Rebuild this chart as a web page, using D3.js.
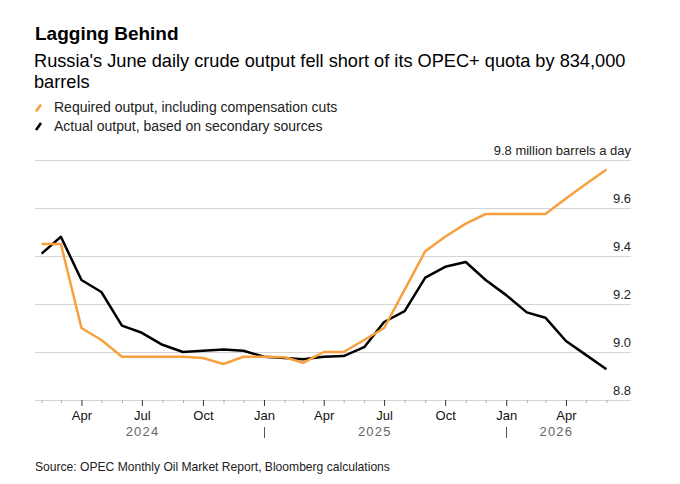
<!DOCTYPE html>
<html>
<head>
<meta charset="utf-8">
<script src="https://cdn.jsdelivr.net/npm/d3@7"></script>
<style>
  body { margin: 0; background: #fff; }
  svg { display: block; font-family: "Liberation Sans", Arial, sans-serif; }
</style>
</head>
<body>
<div id="chart"></div>
<script>
// monthly points, Feb 2024 .. Jun 2026
const months = [
  '2024-02', '2024-03', '2024-04', '2024-05', '2024-06', '2024-07', '2024-08', '2024-09', '2024-10', '2024-11', '2024-12',
  '2025-01', '2025-02', '2025-03', '2025-04', '2025-05', '2025-06', '2025-07', '2025-08', '2025-09', '2025-10', '2025-11', '2025-12',
  '2026-01', '2026-02', '2026-03', '2026-04', '2026-05', '2026-06'
];

// million barrels a day
const required = [
  9.45, 9.45, 9.10, 9.05, 8.98, 8.98, 8.98, 8.98, 8.975, 8.95, 8.98,
  8.98, 8.978, 8.955, 9.00, 9.00, 9.05, 9.10, 9.26, 9.42, 9.48, 9.535, 9.575,
  9.575, 9.575, 9.575, 9.64, 9.70, 9.76
];
const actual = [
  9.41, 9.48, 9.30, 9.25, 9.11, 9.08, 9.03, 9.00, 9.005, 9.01, 9.005,
  8.98, 8.975, 8.97, 8.98, 8.983, 9.02, 9.125, 9.17, 9.31, 9.355, 9.375, 9.30,
  9.237, 9.165, 9.143, 9.046, 8.988, 8.928
];

const yTicks = [8.8, 9.0, 9.2, 9.4, 9.6, 9.8];
const topTickLabel = '9.8 million barrels a day';
const monthLabels = { 0: 'Jan', 3: 'Apr', 6: 'Jul', 9: 'Oct' };
const years = ['2024', '2025', '2026'];

const title = 'Lagging Behind';
const subtitle = ["Russia's June daily crude output fell short of its OPEC+ quota by 834,000", 'barrels'];
const legendItems = [
  { label: 'Required output, including compensation cuts', color: '#f6a13e' },
  { label: 'Actual output, based on secondary sources', color: '#000000' }
];
const source = 'Source: OPEC Monthly Oil Market Report, Bloomberg calculations';

const width = 680;
const height = 484;
const plot = { left: 35, right: 631, top: 160, bottom: 400 };

const parseMonth = d3.timeParse('%Y-%m');
const dates = months.map(parseMonth);

const svg = d3.select('#chart')
  .append('svg')
  .attr('width', width)
  .attr('height', height);

svg.append('rect').attr('width', width).attr('height', height).attr('fill', '#fff');

// header
svg.append('text')
  .attr('x', 35).attr('y', 40)
  .attr('font-size', 19).attr('font-weight', 'bold').attr('fill', '#000')
  .text(title);

svg.selectAll('.subtitle')
  .data(subtitle)
  .enter()
  .append('text')
  .attr('class', 'subtitle')
  .attr('x', 34)
  .attr('y', (d, i) => 67 + i * 21)
  .attr('font-size', 18.2).attr('fill', '#000')
  .text(d => d);

const legend = svg.selectAll('.legend')
  .data(legendItems)
  .enter()
  .append('g')
  .attr('class', 'legend')
  .attr('transform', (d, i) => 'translate(0,' + (112 + i * 18.5) + ')');

legend.append('line')
  .attr('x1', 36).attr('y1', -0.5).attr('x2', 41).attr('y2', -7.5)
  .attr('stroke', d => d.color).attr('stroke-width', 2.6).attr('stroke-linecap', 'butt');

legend.append('text')
  .attr('x', 54).attr('y', 0)
  .attr('font-size', 14).attr('fill', '#222')
  .text(d => d.label);

// scales
const xScale = d3.scaleTime()
  .domain([d3.timeDay.offset(dates[0], -10), d3.timeDay.offset(dates[dates.length - 1], 37)])
  .range([plot.left, plot.right]);

const yScale = d3.scaleLinear()
  .domain([8.8, 9.8])
  .range([plot.bottom, plot.top]);

// y grid + labels on the right
const yAxis = d3.axisLeft(yScale)
  .tickValues(yTicks)
  .tickSize(plot.right - plot.left)
  .tickFormat(d => d === 9.8 ? topTickLabel : d3.format('.1f')(d));

const yG = svg.append('g')
  .attr('transform', 'translate(' + plot.right + ',0)')
  .call(yAxis);

yG.select('.domain').remove();
yG.selectAll('.tick line').attr('stroke', '#d4d4d4').attr('stroke-width', 1);
yG.selectAll('.tick text')
  .attr('x', 0).attr('dy', -6)
  .attr('text-anchor', 'end')
  .attr('font-size', 13)
  .attr('font-family', '"Liberation Sans", Arial, sans-serif')
  .attr('fill', '#222');

// x axis, one tick per month
const xAxis = d3.axisBottom(xScale)
  .tickValues(dates)
  .tickSize(6)
  .tickFormat(d => monthLabels[d.getMonth()] || '');

const xG = svg.append('g')
  .attr('transform', 'translate(0,' + plot.bottom + ')')
  .call(xAxis);

xG.select('.domain').remove();
xG.selectAll('.tick line')
  .attr('y2', d => monthLabels[d.getMonth()] ? 6 : 3)
  .attr('stroke', d => monthLabels[d.getMonth()] ? '#333' : '#aaa');
xG.selectAll('.tick text')
  .attr('y', 20).attr('dy', 0)
  .attr('font-size', 13)
  .attr('font-family', '"Liberation Sans", Arial, sans-serif')
  .attr('fill', '#111');

// year labels centred on the months of each year
const yearG = svg.append('g');
years.forEach((yr, i) => {
  const inYear = dates.filter(d => d.getFullYear() === +yr);
  const ext = d3.extent(inYear, d => xScale(d));
  yearG.append('text')
    .attr('x', (ext[0] + ext[1]) / 2)
    .attr('y', 436)
    .attr('text-anchor', 'middle')
    .attr('font-size', 13)
    .attr('letter-spacing', 1.2)
    .attr('fill', '#666')
    .text(yr);
  if (i > 0) {
    const x = Math.round(xScale(new Date(+yr, 0, 1))) + 0.5;
    yearG.append('line')
      .attr('x1', x).attr('x2', x)
      .attr('y1', 427).attr('y2', 438)
      .attr('stroke', '#555');
  }
});

// lines
const line = d3.line()
  .x(d => xScale(d[0]))
  .y(d => yScale(d[1]));

svg.append('path')
  .datum(dates.map((d, i) => [d, actual[i]]))
  .attr('d', line)
  .attr('fill', 'none')
  .attr('stroke', legendItems[1].color)
  .attr('stroke-width', 2.5)
  .attr('stroke-linejoin', 'round');

svg.append('path')
  .datum(dates.map((d, i) => [d, required[i]]))
  .attr('d', line)
  .attr('fill', 'none')
  .attr('stroke', legendItems[0].color)
  .attr('stroke-width', 2.5)
  .attr('stroke-linejoin', 'round');

// footer
svg.append('text')
  .attr('x', 35).attr('y', 471)
  .attr('font-size', 12.1).attr('fill', '#222')
  .text(source);
</script>
</body>
</html>
